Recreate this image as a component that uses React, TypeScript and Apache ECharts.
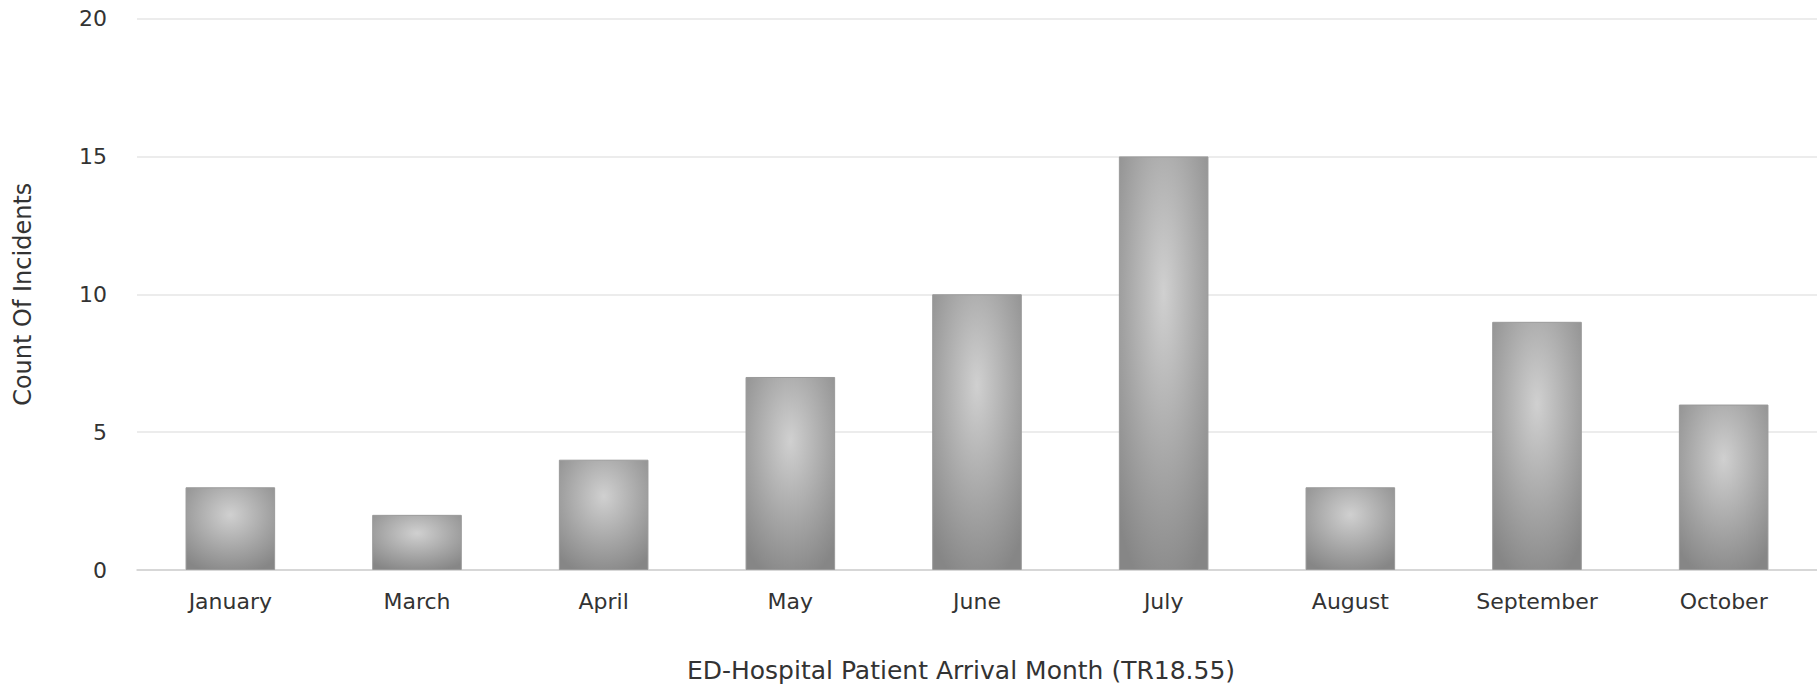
import React, { useEffect, useRef } from "react";
import * as echarts from "echarts";

const categories = ["January", "March", "April", "May", "June", "July", "August", "September", "October"];
const incidents = [3, 2, 4, 7, 10, 15, 3, 9, 6];
const yTicks = { min: 0, max: 20, interval: 5 };
const xTitle = "ED-Hospital Patient Arrival Month (TR18.55)";
const yTitle = "Count Of Incidents";

export default function App() {
  const ref = useRef<HTMLDivElement>(null);
  useEffect(() => {
    if (!ref.current) return;
    const chart = echarts.init(ref.current, undefined, { renderer: "svg" });
    const font = "DejaVu Sans";
    chart.setOption({
      animation: false,
      backgroundColor: "#ffffff",
      grid: { left: 137, right: 0, top: 18.5, bottom: 117, containLabel: false },
      xAxis: {
        type: "category",
        data: categories,
        name: xTitle,
        nameLocation: "middle",
        nameGap: 88,
        nameTextStyle: { fontFamily: font, fontSize: 25, color: "#333333", padding: [0, 32, 0, 0] },
        axisLine: { lineStyle: { color: "#d0d0d0", width: 1.5 } },
        axisTick: { show: false },
        axisLabel: { fontFamily: font, fontSize: 22, color: "#333333", margin: 20 },
      },
      yAxis: {
        type: "value",
        min: yTicks.min,
        max: yTicks.max,
        interval: yTicks.interval,
        name: yTitle,
        nameLocation: "middle",
        nameGap: 102,
        nameRotate: 90,
        nameTextStyle: { fontFamily: font, fontSize: 24, color: "#333333" },
        axisLine: { show: false },
        axisTick: { show: false },
        axisLabel: { fontFamily: font, fontSize: 22, color: "#333333", margin: 30 },
        splitLine: { lineStyle: { color: "#e6e6e6", width: 1.5 } },
      },
      series: [
        {
          type: "bar",
          data: incidents,
          barWidth: "48%",
          itemStyle: {
            color: new echarts.graphic.RadialGradient(0.5, 0.33, 0.75, [
              { offset: 0, color: "#d0d0d0" },
              { offset: 0.6, color: "#a3a3a3" },
              { offset: 1, color: "#868686" },
            ]),
            borderColor: "#9a9a9a",
            borderWidth: 1,
          },
        },
      ],
    });
    return () => chart.dispose();
  }, []);
  return (
    <div
      ref={ref}
      style={{ position: "fixed", left: 0, top: 0, width: 1817, height: 688 }}
    />
  );
}
